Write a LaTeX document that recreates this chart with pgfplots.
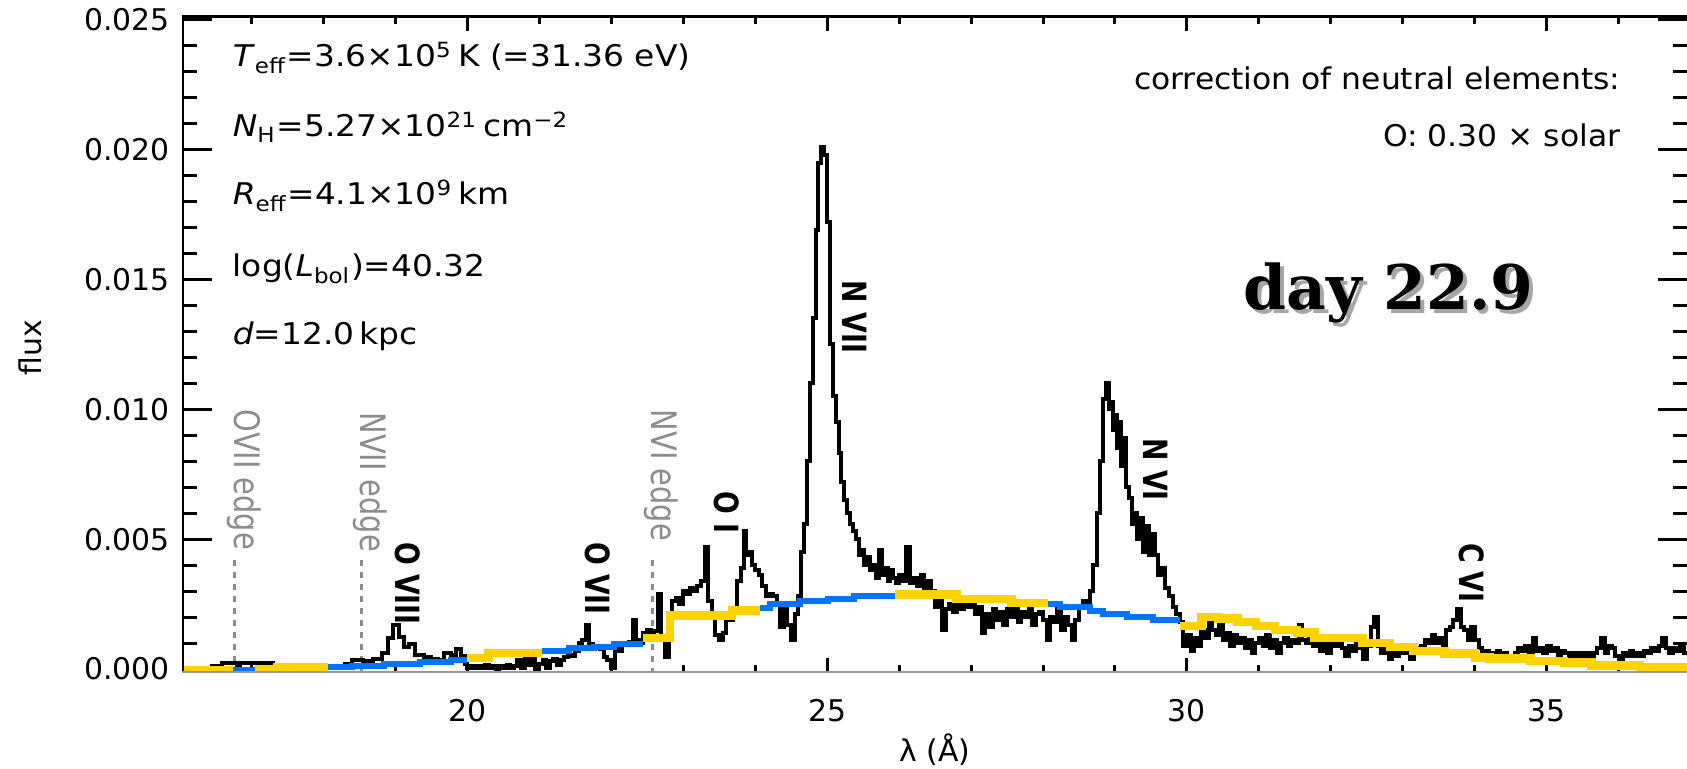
\documentclass[border=0pt]{standalone}
\usepackage{pgfplots}
\usepackage{pgfplotstable}
\pgfplotsset{compat=1.18}
\usepackage{fontspec}
\setmainfont{DejaVu Sans}
\newfontfamily\dayfont{DejaVu Serif}
\definecolor{myyellow}{RGB}{255,210,0}
\definecolor{myblue}{RGB}{0,116,255}
\definecolor{edgegray}{RGB}{140,140,140}
\definecolor{axgray}{RGB}{150,150,150}

% flux in units of 1e-3
\pgfplotstableread{
x y
16.04 0.00
16.45 0.10
16.60 0.22
16.80 0.15
16.85 0.22
17.30 0.02
18.30 0.20
18.40 0.35
18.55 0.30
18.70 0.40
18.82 0.60
18.90 1.20
18.97 1.70
19.05 1.25
19.13 0.85
19.20 0.95
19.28 0.55
19.40 0.45
19.50 0.40
19.60 0.35
19.68 0.60
19.78 0.55
19.85 0.75
19.92 0.50
19.97 0.20
20.00 0.05
20.05 0.12
20.10 0.02
20.15 0.10
20.20 0.05
20.25 0.14
20.30 0.03
20.35 0.10
20.40 0.01
20.45 0.12
20.50 0.04
20.55 0.14
20.60 0.02
20.65 0.10
20.70 0.35
20.75 0.05
20.80 0.55
20.85 0.15
20.90 0.45
20.95 0.00
21.00 0.20
21.05 0.35
21.10 0.05
21.15 0.30
21.20 0.40
21.25 0.15
21.30 0.35
21.35 0.45
21.40 0.55
21.45 0.50
21.50 0.70
21.55 1.00
21.60 1.10
21.65 1.70
21.70 0.95
21.75 0.85
21.80 0.90
21.85 0.75
21.90 0.45
21.95 0.35
22.00 0.05
22.05 0.80
22.10 0.70
22.15 1.00
22.20 0.95
22.25 1.05
22.30 1.90
22.35 1.10
22.40 1.00
22.45 1.40
22.50 1.50
22.55 1.30
22.60 1.45
22.65 2.90
22.70 1.20
22.75 0.45
22.80 1.50
22.85 2.60
22.90 2.75
22.95 2.50
23.00 3.00
23.05 2.90
23.10 3.10
23.15 3.00
23.20 3.20
23.25 3.40
23.30 4.70
23.35 2.60
23.40 2.00
23.45 1.30
23.50 1.10
23.55 1.40
23.60 2.00
23.65 1.90
23.70 2.20
23.75 3.40
23.80 3.90
23.84 5.30
23.88 4.40
23.92 4.50
23.96 4.00
24.00 3.80
24.05 3.60
24.10 3.20
24.15 2.80
24.20 2.90
24.25 2.80
24.30 2.50
24.35 1.60
24.40 2.40
24.45 1.70
24.50 1.10
24.55 2.10
24.60 2.80
24.64 4.50
24.68 5.60
24.72 8.00
24.76 11.0
24.80 13.5
24.84 16.9
24.88 19.5
24.92 20.1
24.96 19.8
25.00 17.2
25.04 12.5
25.08 10.5
25.12 9.5
25.16 8.3
25.20 7.2
25.24 6.5
25.28 6.0
25.32 5.6
25.36 5.3
25.40 5.0
25.44 4.4
25.48 4.6
25.52 4.0
25.56 4.3
25.60 3.8
25.64 4.0
25.68 3.5
25.72 4.6
25.76 3.6
25.80 3.9
25.84 3.4
25.88 3.8
25.92 3.5
25.96 3.3
26.00 3.6
26.05 3.4
26.10 4.7
26.15 3.3
26.20 3.5
26.25 3.2
26.30 3.6
26.35 3.1
26.40 3.4
26.45 3.0
26.50 2.4
26.55 2.6
26.60 1.50
26.65 2.3
26.70 2.5
26.75 2.2
26.80 2.6
26.85 2.3
26.90 2.7
26.95 2.4
27.00 2.5
27.05 2.1
27.10 2.4
27.15 1.40
27.20 2.1
27.25 1.60
27.30 2.3
27.35 1.9
27.40 2.2
27.45 1.70
27.50 2.3
27.55 2.0
27.60 2.4
27.65 1.80
27.70 2.2
27.75 2.0
27.80 2.3
27.85 1.70
27.90 2.1
27.95 2.2
28.00 1.9
28.05 1.10
28.10 2.0
28.15 1.8
28.20 2.3
28.25 1.5
28.30 2.0
28.35 1.7
28.40 1.10
28.45 1.9
28.50 2.4
28.55 2.6
28.60 2.5
28.65 3.0
28.70 4.0
28.75 6.0
28.79 8.0
28.83 10.4
28.87 11.0
28.91 10.0
28.94 10.3
28.97 9.2
29.00 9.8
29.03 8.5
29.06 9.5
29.09 7.8
29.12 8.9
29.15 7.0
29.19 6.6
29.23 5.6
29.27 6.0
29.31 5.0
29.35 5.8
29.39 4.5
29.43 5.5
29.47 4.4
29.51 5.2
29.55 4.4
29.60 3.6
29.65 3.9
29.70 3.1
29.75 2.8
29.80 2.4
29.85 2.1
29.90 1.8
29.95 0.9
30.00 1.3
30.05 0.7
30.10 1.2
30.15 0.9
30.20 1.5
30.25 1.2
30.30 1.8
30.35 1.5
30.40 1.3
30.45 1.7
30.50 1.1
30.55 1.4
30.60 0.9
30.65 1.3
30.70 1.0
30.75 1.2
30.80 0.8
30.85 1.1
30.90 0.6
30.95 1.0
31.00 1.2
31.05 0.9
31.10 1.3
31.15 0.8
31.20 1.1
31.25 0.6
31.30 1.0
31.35 1.2
31.40 0.9
31.45 1.1
31.50 1.0
31.55 1.7
31.60 1.1
31.65 1.0
31.70 1.3
31.75 0.9
31.80 1.1
31.85 0.7
31.90 1.0
31.95 0.6
32.00 1.1
32.05 0.9
32.10 1.0
32.15 0.8
32.20 0.5
32.25 0.9
32.30 0.7
32.35 1.2
32.40 0.8
32.45 0.4
32.50 0.9
32.55 1.6
32.60 2.0
32.65 0.9
32.70 0.6
32.75 0.8
32.80 0.4
32.85 0.7
32.90 0.5
32.95 0.9
33.00 0.6
33.05 0.7
33.10 0.4
33.15 0.8
33.20 0.6
33.25 0.9
33.30 1.1
33.35 1.0
33.40 1.3
33.45 1.0
33.50 1.2
33.55 0.8
33.60 1.5
33.65 1.6
33.70 1.9
33.75 2.3
33.80 1.6
33.85 1.5
33.90 1.1
33.95 1.6
34.00 1.1
34.05 0.8
34.10 0.5
34.15 0.7
34.20 0.3
34.25 0.6
34.30 0.7
34.35 0.5
34.40 0.6
34.45 0.4
34.50 0.3
34.55 0.6
34.60 0.8
34.65 0.7
34.70 0.9
34.75 0.6
34.80 1.2
34.85 0.7
34.90 0.8
34.95 0.6
35.00 0.9
35.05 0.7
35.10 0.8
35.15 0.5
35.20 0.7
35.25 0.6
35.30 0.5
35.35 0.6
35.40 0.5
35.45 0.6
35.50 0.5
35.55 0.6
35.60 0.5
35.65 0.6
35.70 0.8
35.75 1.2
35.80 0.6
35.85 0.9
35.90 0.8
35.95 0.5
36.00 0.4
36.05 0.6
36.10 0.5
36.15 0.7
36.20 0.5
36.25 0.6
36.30 0.5
36.35 0.7
36.40 0.6
36.45 0.8
36.50 0.7
36.55 0.9
36.60 1.2
36.65 0.8
36.70 0.6
36.75 0.8
36.80 0.7
36.85 0.9
36.90 0.6
36.96 0.6
}\spec

\begin{document}
\begin{tikzpicture}
\begin{axis}[
  at={(18.2mm,9.6mm)}, anchor=south west,
  scale only axis, width=150.6mm, height=65.7mm,
  xmin=16.04, xmax=36.96, ymin=-0.155, ymax=25.15,
  axis line style={draw=none},
  xtick={20,25,30,35}, xticklabels={20,25,30,35},
  minor xtick={16,...,37},
  ytick={0,5,10,15,20,25},
  yticklabels={0.000,0.005,0.010,0.015,0.020,0.025},
  minor ytick={0,...,25},
  tick align=inside,
  major tick length=3.0mm, minor tick length=1.5mm,
  xtick style={/pgfplots/major tick length=1.5mm,/pgfplots/minor tick length=0.8mm},
  tick style={line width=0.3mm, black},
  font=\fontsize{8.5pt}{10pt}\selectfont,
  xticklabel style={yshift=-1.4mm},
]
% edge markers
\addplot[edgegray, line width=0.3mm, dash pattern=on 0.6mm off 0.6mm] coordinates {(16.77,-0.2) (16.77,4.2)};
\addplot[edgegray, line width=0.3mm, dash pattern=on 0.6mm off 0.6mm] coordinates {(18.53,-0.2) (18.53,4.2)};
\addplot[edgegray, line width=0.3mm, dash pattern=on 0.6mm off 0.6mm] coordinates {(22.57,-0.2) (22.57,4.2)};

% observed spectrum
\addplot[const plot, black, line width=0.4mm] table[x=x,y=y] {\spec};

% model (alternating colours)
\addplot[const plot, myyellow, line width=0.85mm] coordinates {(16.04,-0.05) (16.75,-0.05)};
\addplot[const plot, myblue, line width=0.6mm] coordinates {(16.75,-0.05) (17.05,-0.05)};
\addplot[const plot, myyellow, line width=0.85mm] coordinates {(17.05,-0.02) (17.36,0.08) (18.07,0.08)};
\addplot[const plot, myblue, line width=0.6mm] coordinates {(18.07,0.08) (18.4,0.12) (18.85,0.18) (19.35,0.28) (19.78,0.33) (20.0,0.33)};
\addplot[const plot, myyellow, line width=0.85mm] coordinates {(20.0,0.42) (20.3,0.62) (21.04,0.62)};
\addplot[const plot, myblue, line width=0.6mm] coordinates {(21.04,0.68) (21.42,0.80) (21.76,0.85) (22.04,0.98) (22.44,0.98)};
\addplot[const plot, myyellow, line width=0.85mm] coordinates {(22.44,1.2) (22.82,2.05) (23.68,2.25) (24.07,2.25)};
\addplot[const plot, myblue, line width=0.6mm] coordinates {(24.07,2.35) (24.21,2.5) (24.62,2.6) (25.02,2.7) (25.37,2.8) (25.94,2.8)};
\addplot[const plot, myyellow, line width=0.85mm] coordinates {(25.94,2.87) (26.8,2.7) (27.56,2.55) (28.07,2.55)};
\addplot[const plot, myblue, line width=0.6mm] coordinates {(28.07,2.5) (28.24,2.4) (28.65,2.25) (28.84,2.1) (29.16,2.0) (29.53,1.9) (29.9,1.9)};
\addplot[const plot, myyellow, line width=0.85mm] coordinates {(29.9,1.65) (30.2,2.0) (30.44,1.95) (30.7,1.8) (30.96,1.65) (31.22,1.5) (31.53,1.4) (31.77,1.2) (32.44,1.0) (32.82,0.85) (33.15,0.7) (33.58,0.6) (34.0,0.45) (34.2,0.4) (34.77,0.3) (35.24,0.25) (35.62,0.13) (36.29,0.08) (36.96,0.08)};

% line labels
\begin{scope}[every node/.style={rotate=-90, xscale=0.8, anchor=west, inner sep=0pt, font=\fontsize{9.5pt}{12pt}\selectfont\bfseries}]
\node at (axis cs:19.18,4.9) {O VIII};
\node at (axis cs:21.81,4.9) {O VII};
\node at (axis cs:23.60,6.85) {O I};
\node at (axis cs:25.39,14.97) {N VII};
\node at (axis cs:29.57,8.9) {N VI};
\node at (axis cs:33.96,4.87) {C VI};
\end{scope}
\begin{scope}[every node/.style={rotate=-90, xscale=0.82, anchor=west, inner sep=0pt, text=edgegray, font=\fontsize{10pt}{12pt}\selectfont}]
\node at (axis cs:16.90,10.0) {OVII edge};
\node at (axis cs:18.66,9.9) {NVII edge};
\node at (axis cs:22.69,10.0) {NVI edge};
\end{scope}

% frame
\draw[black, line width=0.4mm] (rel axis cs:0,0) -- (rel axis cs:0,1) -- (rel axis cs:1,1);
\draw[axgray, line width=0.33mm] (rel axis cs:0,0) -- (rel axis cs:1,0);
\end{axis}

% axis titles
\node[rotate=90, font=\fontsize{8.5pt}{10pt}\selectfont] at (3.0mm,42.1mm) {flux};
\node[font=\fontsize{8.5pt}{10pt}\selectfont] at (93.5mm,1.9mm) {λ (Å)};

% parameter block
\begin{scope}[every node/.style={anchor=base west, inner sep=0pt, xscale=1.1, font=\fontsize{8.5pt}{10pt}\selectfont}]
\node at (23.2mm,70.2mm) {\textit{T}\textsubscript{eff}=3.6×10\textsuperscript{5}\,K (=31.36 eV)};
\node at (23.2mm,63.2mm) {\textit{N}\textsubscript{H}=5.27×10\textsuperscript{21}\,cm\textsuperscript{−2}};
\node at (23.2mm,56.4mm) {\textit{R}\textsubscript{eff}=4.1×10\textsuperscript{9}\,km};
\node at (23.2mm,49.2mm) {log(\textit{L}\textsubscript{bol})=40.32};
\node at (23.2mm,42.4mm) {\textit{d}=12.0\,kpc};
\end{scope}
\begin{scope}[every node/.style={anchor=base east, inner sep=0pt, xscale=1.05, font=\fontsize{8.5pt}{10pt}\selectfont}]
\node at (162.1mm,67.9mm) {correction of neutral elements:};
\node at (162.1mm,62.2mm) {O: 0.30 × solar};
\end{scope}

% day label with shadow
\node[anchor=base west, inner sep=0pt, text=gray!70] at (124.65mm,45.55mm) {\fontsize{17.5pt}{20pt}\dayfont\bfseries day 22.9};
\node[anchor=base west, inner sep=0pt] at (124.3mm,45.9mm) {\fontsize{17.5pt}{20pt}\dayfont\bfseries day 22.9};

\pgfresetboundingbox
\path[use as bounding box] (0,0) rectangle (168.7mm,76.9mm);
\end{tikzpicture}
\end{document}
